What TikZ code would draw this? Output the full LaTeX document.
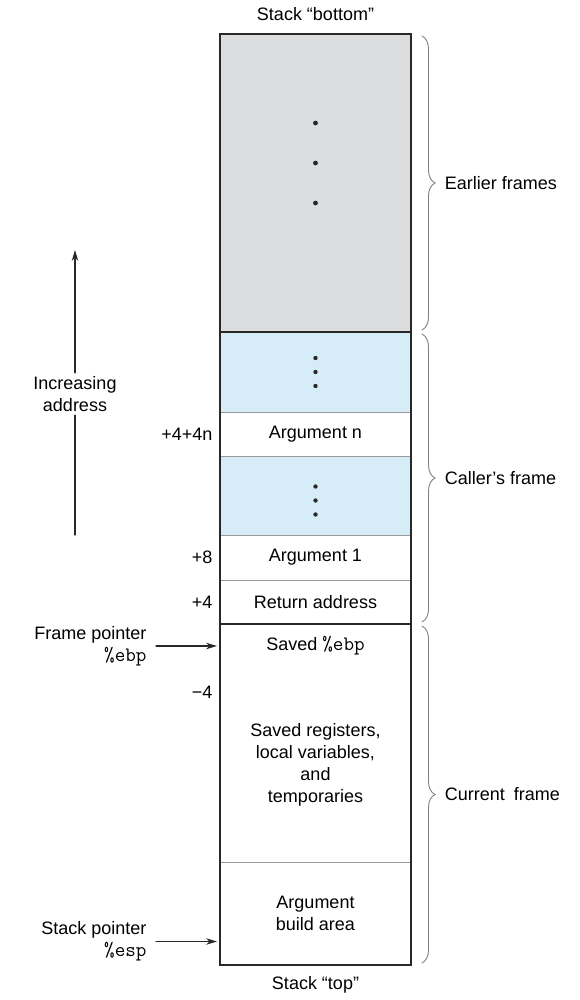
\documentclass[tikz,border=0pt]{standalone}
\usepackage{fontspec}
\setmainfont{Liberation Sans}
\usetikzlibrary{arrows.meta,calc,positioning,decorations.pathreplacing}

\definecolor{framegray}{RGB}{220,221,223}
\definecolor{argblue}{RGB}{214,237,248}
\definecolor{inkgray}{RGB}{40,40,40}
\newcommand{\regname}[1]{{\fontsize{20.5}{22}\selectfont\ttfamily\%#1}}

\tikzset{
  cell/.style={minimum width=191pt,inner sep=0pt,outer sep=0pt,align=center},
  sepline/.style={gray!80,line width=0.8pt},
  frameline/.style={inkgray,line width=1.8pt},
  ptr/.style={-{Stealth[length=11pt,width=6.5pt]},inkgray,line width=1.1pt},
  framebrace/.style={decorate,decoration={brace,amplitude=13pt},gray,line width=0.9pt},
  bracelabel/.style={right=19pt,text=black},
  ptrlabel/.style={align=right}
}

\begin{document}
\begin{tikzpicture}[x=1pt,y=-1pt,font=\fontsize{18}{22}\selectfont,line cap=round]
  \useasboundingbox (0,0) rectangle (580,1000);

  % the stack, from bottom (top of page) to top
  \node[cell,fill=framegray,minimum height=298pt,anchor=north] (earlier) at (315.5,34) {};
  \node[cell,fill=argblue,minimum height=80pt,below=0pt of earlier] (moreargs) {};
  \node[cell,minimum height=44pt,below=0pt of moreargs] (argn) {Argument n};
  \node[cell,fill=argblue,minimum height=79pt,below=0pt of argn] (midargs) {};
  \node[cell,minimum height=45pt,below=0pt of midargs] (argone) {Argument 1};
  \node[cell,minimum height=44pt,below=0pt of argone] (retaddr) {Return address};
  \node[cell,minimum height=44pt,below=0pt of retaddr] (savedebp) {Saved \regname{ebp}};
  \node[cell,minimum height=194pt,below=0pt of savedebp] (locals) {Saved registers,\\local variables,\\and\\temporaries};
  \node[cell,minimum height=103pt,below=0pt of locals] (buildarea) {Argument\\build area};

  % dots
  \foreach \d in {-60,-20,20}
    \fill[inkgray] ($(earlier.center)+(0,\d)$) circle (2.4pt);
  \foreach \d in {-14,0,14} {
    \fill[inkgray] ($(moreargs.center)+(0,\d)$) circle (2.2pt);
    \fill[inkgray] ($(midargs.center)+(0,\d+5)$) circle (2.2pt);
  }

  % separators
  \foreach \c in {moreargs,argn,midargs,argone,locals}
    \draw[sepline] (\c.south west) -- (\c.south east);
  \draw[frameline] (earlier.south west) -- (earlier.south east);
  \draw[frameline] (retaddr.south west) -- (retaddr.south east);
  \draw[frameline] (earlier.north west) rectangle (buildarea.south east);

  \node (stackbottom) at ($(earlier.north)+(0,-20)$) {Stack “bottom”};
  \node (stacktop) at ($(buildarea.south)+(0,20)$) {Stack “top”};

  % offsets from the frame pointer
  \node[left=4pt of argn] (offn) {+4+4n};
  \node[left=4pt of argone] (offeight) {+8};
  \node[left=4pt of retaddr] (offfour) {+4};
  \coordinate (localtop) at ($(locals.north west)+(0,24)$);
  \node[left=4pt of localtop] (offminus) {−4};

  % pointers
  \node[ptrlabel,left=70pt of savedebp.west] (fplabel) {Frame pointer\\\regname{ebp}};
  \draw[ptr,shorten <=6pt,shorten >=3pt] (fplabel) -- (savedebp);
  \coordinate (sptarget) at ($(buildarea.west)+(0,28)$);
  \node[ptrlabel,left=70pt of sptarget] (splabel) {Stack pointer\\\regname{esp}};
  \draw[ptr,shorten <=6pt,shorten >=3pt] (splabel) -- (sptarget);

  % increasing address
  \node[align=center] (incr) at (75,394) {Increasing\\address};
  \coordinate (uptip) at (75,250);
  \coordinate (upbase) at (75,535);
  \draw[ptr] (incr) -- (uptip);
  \draw[inkgray,line width=1.1pt] (upbase) -- (incr);

  % braces
  \draw[framebrace] ($(earlier.north east)+(11,2)$) -- node[bracelabel] (earlierlbl) {Earlier frames} ($(earlier.south east)+(11,-2)$);
  \draw[framebrace] ($(moreargs.north east)+(11,2)$) -- node[bracelabel] (callerlbl) {Caller’s frame} ($(retaddr.south east)+(11,-2)$);
  \draw[framebrace] ($(savedebp.north east)+(11,2)$) -- node[bracelabel] (currentlbl) {Current\enspace frame} ($(buildarea.south east)+(11,-2)$);
\end{tikzpicture}
\end{document}
